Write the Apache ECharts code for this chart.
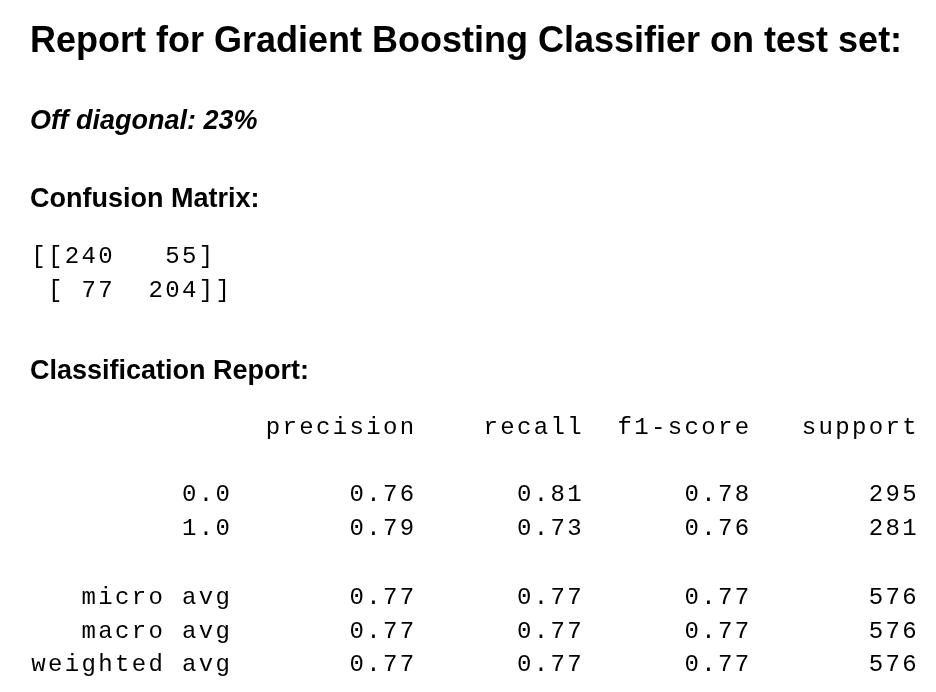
<!DOCTYPE html>
<html>
<head>
<meta charset="utf-8">
<script src="https://cdn.jsdelivr.net/npm/echarts@6/dist/echarts.min.js"></script>
<style>
  html, body { margin: 0; padding: 0; background: #fff; }
  #container { width: 936px; height: 692px; }
</style>
</head>
<body>
<div id="container"></div>
<script>
var titleText = 'Report for Gradient Boosting Classifier on test set:';
var offDiagonal = 23;
var matrix = [[240, 55], [77, 204]];
var headers = ['precision', 'recall', 'f1-score', 'support'];
var rowLabels = ['0.0', '1.0', 'micro avg', 'macro avg', 'weighted avg'];
var precision = [0.76, 0.79, 0.77, 0.77, 0.77];
var recall = [0.81, 0.73, 0.77, 0.77, 0.77];
var f1 = [0.78, 0.76, 0.77, 0.77, 0.77];
var support = [295, 281, 576, 576, 576];
var rowY = [495, 529, 598, 632, 665];

var sans = '"Liberation Sans", Arial, sans-serif';
var monoFont = '24px "Liberation Mono", "Courier New", monospace';
var cw = 16.75, x0 = 30;
// column right edges in characters (sklearn layout)
var colEnds = [12, 23, 33, 43, 53];

function pad(s, n) { s = String(s); while (s.length < n) s = ' ' + s; return s; }

var els = [];
function txt(x, y, text, font) {
    els.push({
        type: 'text', x: x, y: y,
        style: { text: text, font: font, fill: '#000', textAlign: 'left', textVerticalAlign: 'middle' }
    });
}
// fixed pitch text, one glyph per cell
function mono(col, y, str) {
    for (var k = 0; k < str.length; k++) {
        if (str[k] === ' ') continue;
        els.push({
            type: 'text', x: x0 + (col + k + 0.5) * cw, y: y,
            style: { text: str[k], font: monoFont, fill: '#000', textAlign: 'center', textVerticalAlign: 'middle' }
        });
    }
}

txt(30, 42, titleText, 'bold 36px ' + sans);
txt(30, 122, 'Off diagonal: ' + offDiagonal + '%', 'italic bold 27px ' + sans);
txt(30, 200, 'Confusion Matrix:', 'bold 27px ' + sans);
mono(0, 257, '[[' + pad(matrix[0][0], 3) + ' ' + pad(matrix[0][1], 4) + ']');
mono(0, 291, ' [' + pad(matrix[1][0], 3) + ' ' + pad(matrix[1][1], 4) + ']]');
txt(30, 372, 'Classification Report:', 'bold 27px ' + sans);

for (var h = 0; h < headers.length; h++) {
    mono(colEnds[h + 1] - headers[h].length, 428, headers[h]);
}
for (var i = 0; i < rowLabels.length; i++) {
    var vals = [rowLabels[i], precision[i].toFixed(2), recall[i].toFixed(2), f1[i].toFixed(2), String(support[i])];
    for (var c = 0; c < vals.length; c++) {
        mono(colEnds[c] - vals[c].length, rowY[i], vals[c]);
    }
}

var myChart = echarts.init(document.getElementById('container'));
var option = { backgroundColor: '#fff', animation: false, graphic: { elements: els } };
myChart.setOption(option, true);
</script>
</body>
</html>
